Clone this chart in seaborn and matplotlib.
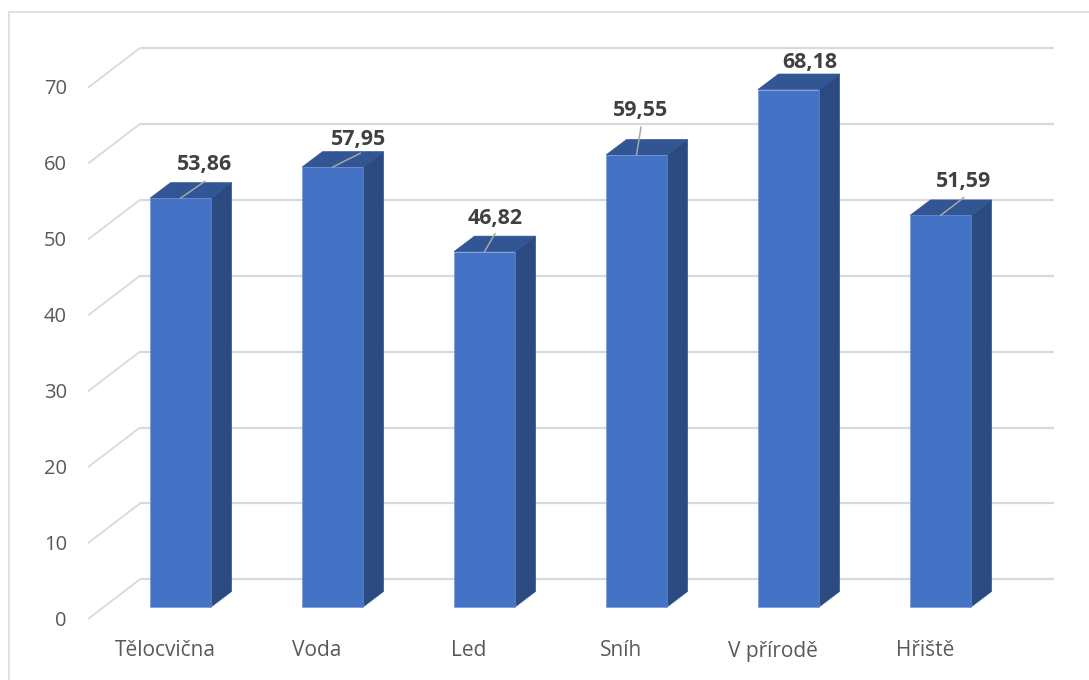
import matplotlib
matplotlib.use("Agg")
import matplotlib.pyplot as plt
import pandas as pd
import seaborn as sns
from matplotlib.lines import Line2D
from matplotlib.patches import Polygon

categories = ["Tělocvična", "Voda", "Led", "Sníh", "V přírodě", "Hřiště"]
values = [53.86, 57.95, 46.82, 59.55, 68.18, 51.59]
y_ticks = [0, 10, 20, 30, 40, 50, 60, 70]

# pixel layout of the fake 3D box (excel style)
X0 = 180.5      # centre of first bar
X_STEP = 152
Y0 = 607        # bar base
Y_SCALE = 7.59  # px per unit
DEPTH_X = 20.5
DEPTH_Y = 15.5

# label offset from bar centre / bar top, and end of the leader line (None = no line)
label_pos = [(24.5, -34), (26.5, -28), (10.5, -33.5), (4.5, -45), (21.5, -27.5), (23.5, -34)]
leader_end = [(24.5, -17), (28, -14), (10.5, -18), (4.5, -28), None, (23.5, -18)]

GRID = "#D9D9D9"


def x_px(p):
    return (p - X0) / X_STEP


def y_px(p):
    return (Y0 - p) / Y_SCALE


sns.set_theme(style="white")
plt.rcParams["font.family"] = ["Open Sans", "DejaVu Sans"]

df = pd.DataFrame({"category": categories, "value": values})

fig = plt.figure(figsize=(10.89, 6.80), dpi=100)
ax = fig.add_axes([0, 0, 1, 1])

sns.barplot(data=df, x="category", y="value", color="#4472C4", saturation=1,
            width=61 / X_STEP, linewidth=0.4, edgecolor="#6F93D6", zorder=4, ax=ax)

ax.set_xlim(x_px(0), x_px(1089))
ax.set_ylim(y_px(680), y_px(0))
ax.axis("off")

dx = DEPTH_X / X_STEP
dy = DEPTH_Y / Y_SCALE

# gridlines on the back wall + diagonal on the side wall
for t in y_ticks:
    front_y = 619 - t * 7.59
    ax.plot([x_px(88), x_px(140)], [y_px(front_y), y_px(front_y - 39.7)],
            color=GRID, lw=1.3, zorder=1, solid_capstyle="butt")
    ax.plot([x_px(140), x_px(1054)], [y_px(front_y - 39.7), y_px(front_y - 39.7)],
            color=GRID, lw=1.6, zorder=1, solid_capstyle="butt")
    ax.text(x_px(67), y_px(front_y + 1.5), str(t), ha="right", va="center",
            fontsize=14.5, color="#595959")

# side and top faces of each bar
for i, bar in enumerate(ax.patches):
    left = bar.get_x()
    right = left + bar.get_width()
    top = bar.get_height()
    side = Polygon([(right, 0), (right + dx, dy), (right + dx, top + dy), (right, top)],
                   closed=True, facecolor="#2A4A80", edgecolor="#2F5190", lw=0.5, zorder=3)
    cap = Polygon([(left, top), (left + dx, top + dy), (right + dx, top + dy), (right, top)],
                  closed=True, facecolor="#325594", edgecolor="#325594", lw=0.5, zorder=3)
    ax.add_patch(side)
    ax.add_patch(cap)

    centre = left + bar.get_width() / 2
    lx, ly = label_pos[i]
    ax.text(centre + lx / X_STEP, top - ly / Y_SCALE, f"{values[i]:.2f}".replace(".", ","),
            ha="center", va="center", fontsize=15.4, fontweight="bold", color="#404040", zorder=6)
    if leader_end[i] is not None:
        ex, ey = leader_end[i]
        ax.plot([centre, centre + ex / X_STEP], [top, top - ey / Y_SCALE],
                color="#A6A6A6", lw=1.1, zorder=5)

    ax.text(centre - 15.5 / X_STEP, y_px(651), categories[i], ha="center", va="center",
            fontsize=15, color="#595959")

# chart area border, only top and left are visible in the crop
fig.add_artist(Line2D([9 / 1089, 9 / 1089], [0, 1 - 11.5 / 680], color=GRID, lw=1.1))
fig.add_artist(Line2D([9 / 1089, 1], [1 - 11.5 / 680, 1 - 11.5 / 680], color=GRID, lw=1.1))

fig.savefig("out.png", dpi=100, facecolor="white")
